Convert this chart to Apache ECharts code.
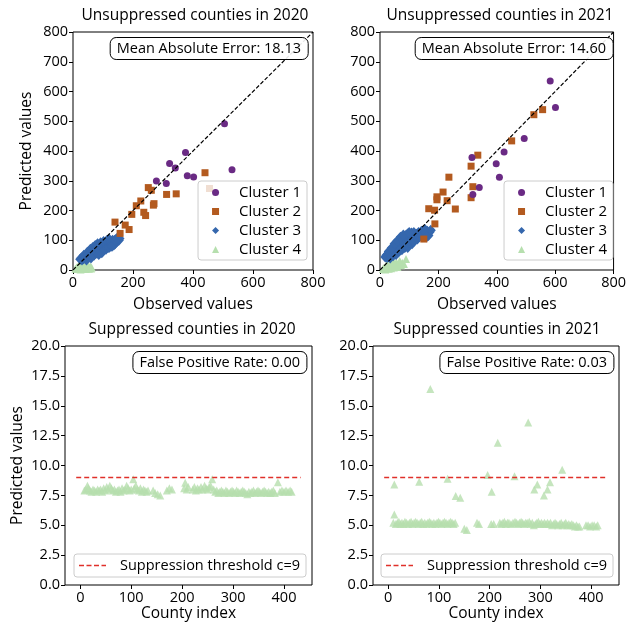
<!DOCTYPE html>
<html>
<head>
<meta charset="utf-8">
<script src="https://cdn.jsdelivr.net/npm/echarts@6/dist/echarts.min.js"></script>
<style>
html,body{margin:0;padding:0;background:#fff;}
#main{width:629px;height:629px;}
</style>
</head>
<body>
<div id="main"></div>
<script>
// 数据 (observed, predicted)
var c1_2020 = [[505,492],[375,395],[322,358],[341,343],[530,337],[381,317],[402,313],[278,299],[311,291]];
var c2_2020 = [[440,327],[455,274],[251,277],[261,268],[312,254],[344,256],[226,232],[211,216],[270,223],[268,218],[196,187],[236,194],[242,183],[140,161],[174,151],[187,136],[157,123]];
var c3_2020 = [[24,36],[28,40],[30,34],[33,42],[35,38],[38,45],[40,40],[42,48],[44,43],[46,52],[48,46],[50,55],[52,50],[54,44],[55,58],[57,52],[58,62],[60,48],[62,56],[63,65],[65,60],[67,53],[68,68],[70,62],[72,58],[73,70],[75,65],[77,72],[78,60],[80,68],[82,75],[84,66],[85,78],[87,72],[88,64],[90,80],[92,74],[94,70],[95,82],[97,77],[98,88],[100,72],[102,84],[104,79],[106,90],[108,76],[110,86],[112,82],[115,92],[118,84],[120,88],[122,96],[125,90],[128,86],[130,94],[132,100],[135,90],[138,96],[140,88],[142,102],[145,94],[148,98],[150,104],[153,100],[155,106],[136,84],[126,80],[116,76],
  [36,50],[48,60],[58,70],[66,76],[74,82],[82,88],[92,92],[102,96],[112,98],[120,104],[70,50],[80,56],[90,62],[100,64],[110,70],[120,76],[130,80],[60,40],[45,34],[140,100],[146,106],[96,58],[86,52]];
var c4_2020 = [[8,4],[12,8],[15,3],[18,12],[20,6],[23,15],[25,2],[28,10],[30,16],[32,5],[35,12],[38,8],[40,14],[42,3],[45,10],[48,6],[50,15],[53,4],[55,9],[58,12],[60,5],[62,8],[20,18],[45,17]];

var c1_2021 = [[583,635],[601,546],[494,442],[425,397],[315,378],[398,357],[409,312],[340,277],[318,254]];
var c2_2021 = [[557,539],[527,522],[451,434],[335,386],[312,349],[236,312],[318,280],[312,243],[195,246],[195,236],[216,262],[230,233],[167,206],[187,201],[258,205],[188,155],[150,104]];
var c3_2021 = [[18,44],[22,50],[25,42],[28,55],[30,48],[33,60],[35,52],[38,65],[40,56],[42,70],[45,60],[47,75],[50,64],[52,80],[55,68],[57,85],[60,72],[62,90],[64,78],[66,96],[68,82],[70,100],[72,86],[74,92],[76,104],[78,80],[80,96],[82,108],[84,88],[86,112],[88,100],[90,118],[92,94],[94,106],[96,122],[98,84],[100,112],[102,100],[104,118],[106,92],[108,124],[110,106],[112,96],[114,114],[116,126],[118,102],[120,110],[124,120],[128,104],[132,126],[138,118],[142,130],[146,112],[150,124],[154,136],[158,120],[162,130],[166,116],[170,128],[174,134],[60,58],[45,48],[85,76],[110,88],
  [30,62],[40,74],[50,88],[60,98],[70,110],[80,118],[100,126],[35,40],[55,52],[75,68],[95,76],[115,96],[125,110],[135,112],[150,132],[160,112],[66,64],[90,84]];
var c4_2021 = [[10,3],[14,8],[18,2],[20,12],[24,6],[27,16],[30,4],[33,10],[36,20],[38,6],[41,14],[44,24],[47,8],[50,18],[53,12],[56,26],[60,10],[64,20],[68,28],[72,16],[76,24],[82,20],[89,37],[67,30],[45,30],[25,22]];

// (county index, predicted)
var supp2020 = [[8,7.9],[11,8.0],[14,8.3],[16,8.1],[19,7.9],[22,7.8],[25,8.0],[28,7.9],[31,7.8],[34,8.0],[37,7.9],[40,8.0],[43,7.8],[46,8.1],[49,7.9],[52,8.2],[55,8.0],[58,8.3],[61,8.1],[64,7.9],[67,8.0],[70,7.8],[73,7.9],[76,8.0],[79,7.8],[82,8.1],[85,7.9],[88,8.0],[91,8.3],[94,8.1],[97,7.9],[100,8.0],[104,8.85],[106,8.1],[109,8.3],[112,8.0],[115,7.9],[118,8.1],[121,7.8],[124,8.0],[127,7.9],[130,7.8],[133,7.9],
  [143,7.9],[147,7.7],[152,7.6],[157,7.5],[170,7.9],[175,8.1],[180,8.0],[204,8.1],[206,8.55],[209,8.0],[212,8.2],
  [221,8.0],[224,8.2],[227,7.9],[230,8.1],[233,8.0],[237,8.2],[240,8.0],[244,8.3],[247,8.1],[250,8.0],[253,8.2],[256,8.3],[259,8.85],[262,8.0],
  [265,7.8],[268,7.9],[271,7.7],[274,7.8],[277,7.9],[280,7.8],[283,7.7],[286,7.9],[289,7.8],[292,7.7],[295,7.8],[298,7.9],[301,7.8],[304,7.7],[307,7.9],[310,7.8],[313,7.7],[316,7.8],[319,7.9],[322,7.8],[325,7.7],[328,7.6],[331,7.8],[334,7.7],[337,7.8],[340,7.9],[343,7.7],[346,7.8],[349,7.9],[352,7.8],[355,7.7],[358,7.8],[361,7.9],[364,7.8],[367,7.7],[370,7.8],[373,7.7],[376,7.8],[379,7.9],[382,7.7],
  [388,8.6],[392,7.8],[396,7.9],[400,7.8],[404,7.9],[408,7.8],[412,7.9],[415,7.8]];
var supp2021 = [[10,5.2],[12,5.9],[12,8.4],[15,5.1],[18,5.2],[21,5.3],[24,5.1],[27,5.2],[30,5.1],[33,5.3],[36,5.2],[39,5.1],[42,5.2],[45,5.3],[48,5.1],[51,5.2],[54,5.3],[57,5.2],[61,8.65],[60,5.1],[63,5.2],[66,5.3],[69,5.1],[72,5.2],[75,5.1],[78,5.2],[83,16.4],[81,5.3],[84,5.2],[87,5.1],[90,5.2],[93,5.1],[96,5.2],[99,5.3],[102,5.2],[105,5.1],[108,5.2],[111,5.3],[114,5.2],[117,8.9],[117,5.1],[120,5.2],[123,5.3],[126,5.2],[129,5.1],[132,5.2],[133,7.45],[142,7.3],[150,4.7],[155,4.6],[175,5.2],[179,5.1],[196,9.2],[204,7.8],[203,5.1],[208,5.1],[216,11.9],
  [220,5.2],[223,5.1],[226,5.2],[229,5.3],[232,5.1],[235,5.2],[238,5.2],[242,5.1],[249,9.1],[246,5.2],[250,5.3],[253,5.2],[256,5.1],[259,5.2],[262,5.3],[265,5.2],[268,5.1],[271,5.2],[274,5.2],[276,13.6],[278,5.3],[281,5.1],[284,5.2],[288,8.0],[287,5.0],[290,5.1],[294,8.4],[293,5.2],[296,5.3],[299,5.1],[302,5.2],[305,5.1],[307,7.5],[308,5.2],[311,5.1],[314,8.0],[314,5.2],[319,8.6],[317,5.1],[320,5.2],[323,5.0],[326,5.1],[329,5.2],[332,5.1],[335,5.0],[338,5.1],[341,5.2],[343,9.65],[344,5.0],[347,5.1],[350,5.2],[353,5.0],[356,5.1],[359,5.0],[362,5.1],[365,5.0],[368,4.9],[371,5.0],[374,4.9],[377,4.9],
  [390,5.0],[394,5.0],[398,4.9],[402,5.0],[406,5.0],[410,4.9],[413,5.0]];

var diagLine = [[0,0],[800,800]];
var threshold = 9;
var thresholdSpan = [-8, 433];
var countyTicks = [0,100,200,300,400];
var maeText = ['Mean Absolute Error: 18.13', 'Mean Absolute Error: 14.60'];
var fprText = ['False Positive Rate: 0.00', 'False Positive Rate: 0.03'];
var clusterNames = ['Cluster 1','Cluster 2','Cluster 3','Cluster 4'];
var threshName = 'Suppression threshold c=9';

var FONT = 'Open Sans';
var RED = '#e0302a';
var colors = ['#6a2a84','#b35a1f','#3567ad','#b6dfae'];
var symbols = ['circle','rect','diamond','triangle'];
var sizes = [7,7,[10,11],8];

var grids = [
	{left:73, top:32, width:240, height:238},
	{left:380, top:32, width:239, height:238},
	{left:65, top:346, width:247, height:239},
	{left:373, top:346, width:246, height:239}
];
grids.forEach(function(g){ g.show = true; g.borderColor = '#000'; g.borderWidth = 1; g.backgroundColor = 'transparent'; });

function axisBase(extra){
	var a = {
		gridIndex:0, type:'value',
		axisLine:{show:false, onZero:false},
		axisTick:{show:true, length:4, lineStyle:{color:'#000'}},
		axisLabel:{color:'#000', fontSize:14.5, fontFamily:FONT, margin:5},
		splitLine:{show:false},
		nameTextStyle:{color:'#000', fontSize:15.5, fontFamily:FONT},
		nameLocation:'middle'
	};
	for (var k in extra) a[k] = extra[k];
	return a;
}

var xAxes = [
	axisBase({gridIndex:0, min:0, max:800, interval:200, name:'Observed values', nameGap:27}),
	axisBase({gridIndex:1, min:0, max:800, interval:200, name:'Observed values', nameGap:27}),
	axisBase({gridIndex:2, min:-30, max:455, name:'County index', nameGap:21}),
	axisBase({gridIndex:3, min:-30, max:455, name:'County index', nameGap:21})
];
[2,3].forEach(function(i){
	xAxes[i].axisLabel.customValues = countyTicks;
	xAxes[i].axisTick.customValues = countyTicks;
});
var yAxes = [
	axisBase({gridIndex:0, min:0, max:800, interval:100, name:'Predicted values', nameGap:38}),
	axisBase({gridIndex:1, min:0, max:800, interval:100}),
	axisBase({gridIndex:2, min:0, max:20, interval:2.5, name:'Predicted values', nameGap:39}),
	axisBase({gridIndex:3, min:0, max:20, interval:2.5})
];
[2,3].forEach(function(i){
	yAxes[i].axisLabel.formatter = function(v){ return v.toFixed(1); };
});

var series = [];
var clusterSets = [[c1_2020,c2_2020,c3_2020,c4_2020],[c1_2021,c2_2021,c3_2021,c4_2021]];
clusterSets.forEach(function(set, gi){
	series.push({
		type:'line', xAxisIndex:gi, yAxisIndex:gi, data:diagLine, symbol:'none', silent:true, z:5,
		lineStyle:{color:'#000', width:1.2, type:[4,2]}
	});
	// 画 cluster 4 先, 再 3,2,1
	for (var k = 3; k >= 0; k--) {
		series.push({
			type:'scatter', name:clusterNames[k], xAxisIndex:gi, yAxisIndex:gi,
			data:set[k], symbol:symbols[k], symbolSize:sizes[k], z:2 + (3-k)*0.1,
			itemStyle:{color:colors[k], opacity:1}
		});
	}
});
[supp2020, supp2021].forEach(function(d, j){
	var gi = j + 2;
	series.push({
		type:'scatter', name:'Cluster 4 s', xAxisIndex:gi, yAxisIndex:gi, data:d,
		symbol:'triangle', symbolSize:8, itemStyle:{color:colors[3]}, z:2
	});
	series.push({
		type:'line', name:threshName, xAxisIndex:gi, yAxisIndex:gi,
		data:[[thresholdSpan[0],threshold],[thresholdSpan[1],threshold]],
		symbol:'none', silent:true, z:3,
		itemStyle:{color:RED},
		lineStyle:{color:RED, width:1.5, type:[5,3]}
	});
});

function clusterLegend(right){
	return {
		orient:'vertical', right:right, top:181, itemWidth:7, itemHeight:7, itemGap:4,
		data:clusterNames, selectedMode:false,
		padding:[4,6,3,14], borderColor:'#ccc', borderWidth:1, borderRadius:3,
		backgroundColor:'rgba(255,255,255,0.8)',
		textStyle:{color:'#000', fontSize:15, fontFamily:FONT, padding:[0,0,0,15]}
	};
}
var dashIcon = 'path://M0,0h5v1.5h-5z M7.5,0h5v1.5h-5z M15,0h5v1.5h-5z M22.5,0h4.5v1.5h-4.5z';
function threshLegend(right){
	return {
		right:right, top:554, itemWidth:27, itemHeight:1.5,
		data:[{name:threshName, icon:dashIcon, itemStyle:{color:RED}}], selectedMode:false,
		padding:[4,6,4,5], borderColor:'#ccc', borderWidth:1, borderRadius:3,
		backgroundColor:'rgba(255,255,255,0.8)',
		textStyle:{color:'#000', fontSize:14.5, fontFamily:FONT, padding:[0,0,0,9]}
	};
}

function boxTitle(text, right, top){
	return {
		text:text, right:right, top:top,
		padding:[4,7,4,7], borderColor:'#000', borderWidth:1, borderRadius:6,
		backgroundColor:'rgba(255,255,255,0.9)',
		textStyle:{color:'#000', fontSize:14.5, fontWeight:'normal', fontFamily:FONT}
	};
}

function panelTitle(text, x, y){
	return {type:'text', x:x, y:y, style:{text:text, fill:'#000', fontSize:15.5, fontFamily:FONT, align:'center'}};
}

var myChart = echarts.init(document.getElementById('main'));
myChart.setOption({
	animation:false,
	backgroundColor:'#fff',
	title:[
		boxTitle(maeText[0], 629-308, 37),
		boxTitle(maeText[1], 629-613, 37),
		boxTitle(fprText[0], 629-307, 351),
		boxTitle(fprText[1], 629-614, 351)
	],
	legend:[clusterLegend(322), clusterLegend(16), threshLegend(323), threshLegend(16)],
	grid:grids,
	xAxis:xAxes,
	yAxis:yAxes,
	series:series,
	graphic:[
		panelTitle('Unsuppressed counties in 2020', 195, 8),
		panelTitle('Unsuppressed counties in 2021', 500, 8),
		panelTitle('Suppressed counties in 2020', 192, 322),
		panelTitle('Suppressed counties in 2021', 497, 322)
	]
});
</script>
</body>
</html>
